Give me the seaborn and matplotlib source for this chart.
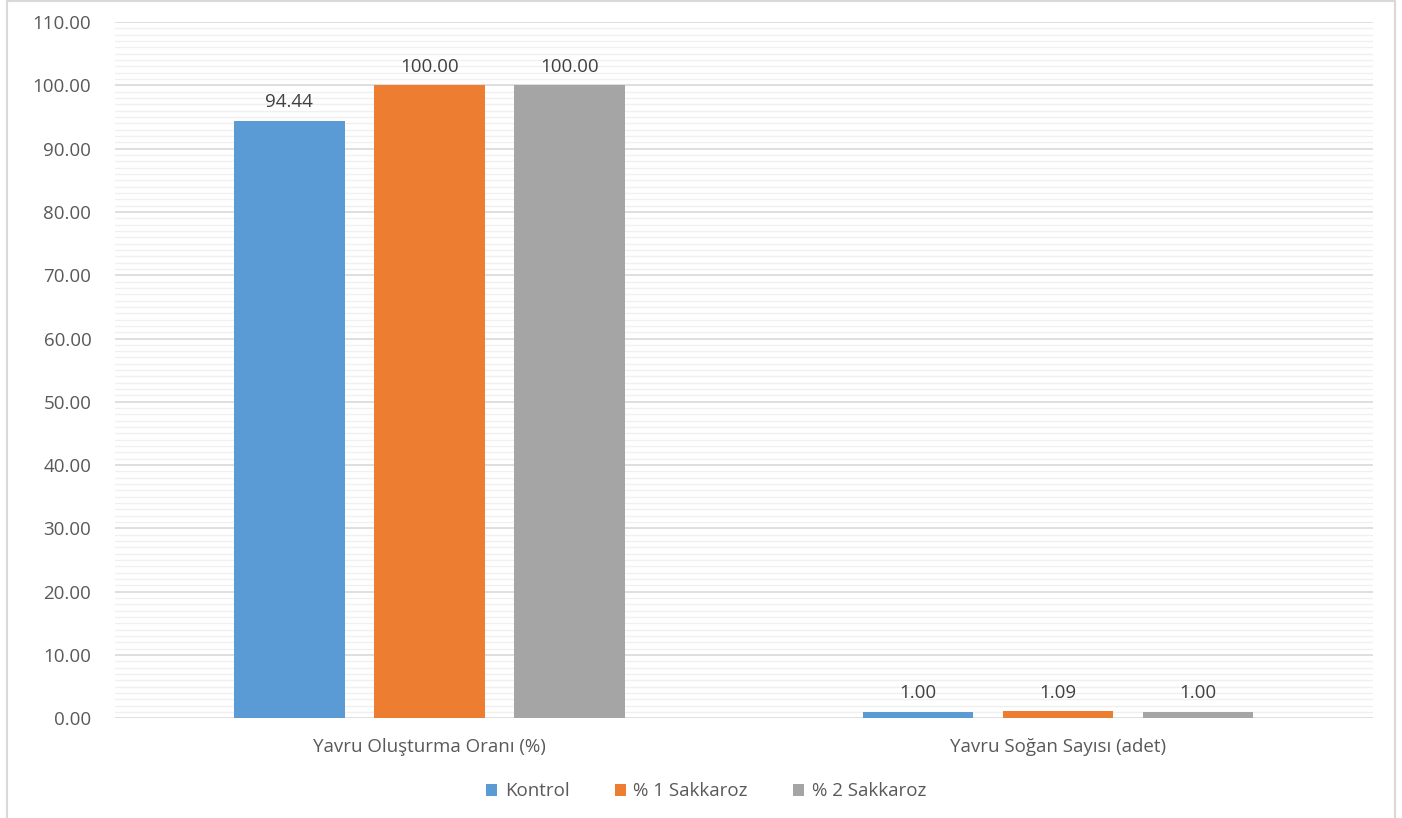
import pandas as pd
import numpy as np
import seaborn as sns
import matplotlib.pyplot as plt
from matplotlib.ticker import MultipleLocator, FormatStrFormatter
from matplotlib.patches import Rectangle

# 数据
categories = ["Yavru Oluşturma Oranı (%)", "Yavru Soğan Sayısı (adet)"]
groups = ["Kontrol", "% 1 Sakkaroz", "% 2 Sakkaroz"]
kontrol = [94.44, 1.00]
sakkaroz1 = [100.00, 1.09]
sakkaroz2 = [100.00, 1.00]
colors = ["#5B9BD5", "#ED7D31", "#A5A5A5"]

df = pd.DataFrame({
    "kategori": categories * 3,
    "grup": [g for g in groups for _ in categories],
    "deger": kontrol + sakkaroz1 + sakkaroz2,
})

sns.set_style("white")
plt.rcParams['font.family'] = ['Open Sans', 'DejaVu Sans']
text_color = "#595959"
fs = 13.5

fig = plt.figure(figsize=(14.02, 8.18), dpi=100)
ax = fig.add_axes([0.082, 0.122, 0.897, 0.851])

sns.barplot(data=df, x="kategori", y="deger", hue="grup", order=categories,
            hue_order=groups, palette=colors, width=0.668, gap=0.21,
            saturation=1, errorbar=None, ax=ax, zorder=3, linewidth=0)

# 柱子上方数值
for cont in ax.containers:
    ax.bar_label(cont, fmt="%.2f", padding=7, fontsize=fs, color="#404040")

ax.set_ylim(0, 110)
ax.set_xlim(-0.5, 1.5)
ax.yaxis.set_major_locator(MultipleLocator(10))
ax.yaxis.set_minor_locator(MultipleLocator(1))
ax.yaxis.set_major_formatter(FormatStrFormatter("%.2f"))
ax.grid(axis="y", which="major", color="#d9d9d9", linewidth=1.2, zorder=0)
ax.grid(axis="y", which="minor", color="#f0f0f0", linewidth=1.0, zorder=0)
ax.set_axisbelow(True)
for s in ax.spines.values():
    s.set_visible(False)
ax.tick_params(axis="both", which="both", length=0, labelsize=fs, colors=text_color)
ax.tick_params(axis="y", pad=17)
ax.tick_params(axis="x", pad=14)
ax.set_xlabel("")
ax.set_ylabel("")

ax.legend(loc="center", bbox_to_anchor=(0.47, -0.105), ncol=3, frameon=False,
          fontsize=fs, handlelength=0.6, handleheight=0.6, handletextpad=0.4,
          columnspacing=2.4, labelcolor=text_color)

# 外框
fig.patches.append(Rectangle((0.005, -0.1), 0.99, 1.099, transform=fig.transFigure,
                             fill=False, edgecolor="#d9d9d9", linewidth=1.5))

fig.savefig("out.png", dpi=100)
